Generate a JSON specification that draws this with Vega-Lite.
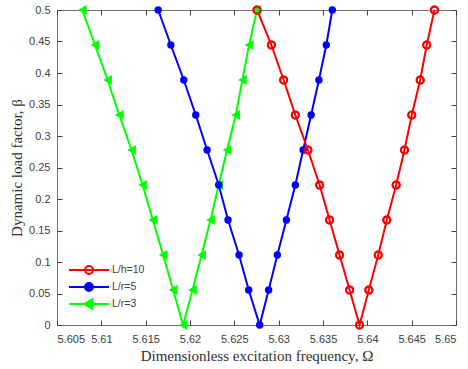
{
  "$schema": "https://vega.github.io/schema/vega-lite/v6.json",
  "width": 399,
  "height": 315,
  "autosize": {"type": "none"},
  "padding": {"left": 57, "top": 10, "right": 12, "bottom": 44},
  "background": "white",
  "config": {
    "view": {"stroke": "#707070", "strokeWidth": 1},
    "axis": {
      "grid": false,
      "domain": false,
      "tickColor": "#404040",
      "tickWidth": 1,
      "labelFont": "Liberation Sans",
      "labelFontSize": 11,
      "labelColor": "#404040",
      "titleFont": "Liberation Serif",
      "titleFontSize": 15,
      "titleFontWeight": "normal",
      "titleColor": "#303030"
    }
  },
  "data": {
    "values": [
      {"series": "L/r=3", "x": 5.60785, "beta": 0.5},
      {"series": "L/r=3", "x": 5.60928, "beta": 0.4444},
      {"series": "L/r=3", "x": 5.61071, "beta": 0.3889},
      {"series": "L/r=3", "x": 5.61202, "beta": 0.3333},
      {"series": "L/r=3", "x": 5.61341, "beta": 0.2778},
      {"series": "L/r=3", "x": 5.61465, "beta": 0.2222},
      {"series": "L/r=3", "x": 5.61581, "beta": 0.1667},
      {"series": "L/r=3", "x": 5.61697, "beta": 0.1111},
      {"series": "L/r=3", "x": 5.61810, "beta": 0.0556},
      {"series": "L/r=3", "x": 5.61922, "beta": 0},
      {"series": "L/r=3", "x": 5.62028, "beta": 0.0556},
      {"series": "L/r=3", "x": 5.62130, "beta": 0.1111},
      {"series": "L/r=3", "x": 5.62231, "beta": 0.1667},
      {"series": "L/r=3", "x": 5.62324, "beta": 0.2222},
      {"series": "L/r=3", "x": 5.62418, "beta": 0.2778},
      {"series": "L/r=3", "x": 5.62516, "beta": 0.3333},
      {"series": "L/r=3", "x": 5.62591, "beta": 0.3889},
      {"series": "L/r=3", "x": 5.62666, "beta": 0.4444},
      {"series": "L/r=3", "x": 5.62756, "beta": 0.5},
      {"series": "L/r=5", "x": 5.61641, "beta": 0.5},
      {"series": "L/r=5", "x": 5.61784, "beta": 0.4444},
      {"series": "L/r=5", "x": 5.61930, "beta": 0.3889},
      {"series": "L/r=5", "x": 5.62065, "beta": 0.3333},
      {"series": "L/r=5", "x": 5.62193, "beta": 0.2778},
      {"series": "L/r=5", "x": 5.62324, "beta": 0.2222},
      {"series": "L/r=5", "x": 5.62429, "beta": 0.1667},
      {"series": "L/r=5", "x": 5.62553, "beta": 0.1111},
      {"series": "L/r=5", "x": 5.62662, "beta": 0.0556},
      {"series": "L/r=5", "x": 5.62786, "beta": 0},
      {"series": "L/r=5", "x": 5.62887, "beta": 0.0556},
      {"series": "L/r=5", "x": 5.62985, "beta": 0.1111},
      {"series": "L/r=5", "x": 5.63087, "beta": 0.1667},
      {"series": "L/r=5", "x": 5.63188, "beta": 0.2222},
      {"series": "L/r=5", "x": 5.63276, "beta": 0.2778},
      {"series": "L/r=5", "x": 5.63366, "beta": 0.3333},
      {"series": "L/r=5", "x": 5.63454, "beta": 0.3889},
      {"series": "L/r=5", "x": 5.63537, "beta": 0.4444},
      {"series": "L/r=5", "x": 5.63605, "beta": 0.5},
      {"series": "L/h=10", "x": 5.62756, "beta": 0.5},
      {"series": "L/h=10", "x": 5.62918, "beta": 0.4444},
      {"series": "L/h=10", "x": 5.63056, "beta": 0.3889},
      {"series": "L/h=10", "x": 5.63188, "beta": 0.3333},
      {"series": "L/h=10", "x": 5.63330, "beta": 0.2778},
      {"series": "L/h=10", "x": 5.63462, "beta": 0.2222},
      {"series": "L/h=10", "x": 5.63574, "beta": 0.1667},
      {"series": "L/h=10", "x": 5.63687, "beta": 0.1111},
      {"series": "L/h=10", "x": 5.63800, "beta": 0.0556},
      {"series": "L/h=10", "x": 5.63912, "beta": 0},
      {"series": "L/h=10", "x": 5.64017, "beta": 0.0556},
      {"series": "L/h=10", "x": 5.64123, "beta": 0.1111},
      {"series": "L/h=10", "x": 5.64220, "beta": 0.1667},
      {"series": "L/h=10", "x": 5.64325, "beta": 0.2222},
      {"series": "L/h=10", "x": 5.64419, "beta": 0.2778},
      {"series": "L/h=10", "x": 5.64501, "beta": 0.3333},
      {"series": "L/h=10", "x": 5.64596, "beta": 0.3889},
      {"series": "L/h=10", "x": 5.64670, "beta": 0.4444},
      {"series": "L/h=10", "x": 5.64757, "beta": 0.5}
    ]
  },
  "layer": [
    {
      "encoding": {
        "x": {
          "field": "x", "type": "quantitative",
          "scale": {"domain": [5.605, 5.65], "nice": false, "zero": false},
          "axis": {
            "title": "Dimensionless excitation frequency, Ω",
            "values": [5.605, 5.61, 5.615, 5.62, 5.625, 5.63, 5.635, 5.64, 5.645, 5.65],
            "format": "~g",
            "ticks": false,
            "tickSize": 0,
            "labelPadding": 8,
            "titlePadding": 4
          }
        },
        "y": {
          "field": "beta", "type": "quantitative",
          "scale": {"domain": [0, 0.5], "nice": false},
          "axis": {
            "title": "Dynamic load factor, β",
            "values": [0, 0.05, 0.1, 0.15, 0.2, 0.25, 0.3, 0.35, 0.4, 0.45, 0.5],
            "format": "~g",
            "ticks": false,
            "tickSize": 0,
            "labelPadding": 7,
            "titlePadding": 4
          }
        },
        "color": {
          "field": "series", "type": "nominal",
          "scale": {"domain": ["L/h=10", "L/r=5", "L/r=3"], "range": ["#ff0000", "#0000ff", "#00ff00"]},
          "legend": {
            "title": null,
            "orient": "none",
            "legendX": 23,
            "legendY": 251,
            "padding": 0,
            "rowPadding": 0,
            "symbolSize": 256,
            "symbolStrokeWidth": 2,
            "labelOffset": 14,
            "labelFont": "Liberation Sans",
            "labelFontSize": 10.5,
            "labelColor": "#404040",
            "encode": {
              "symbols": {
                "update": {
                  "shape": {"signal": "datum.value === 'L/r=3' ? 'M-2.5,0H2.5M-0.6,0L0.45,-0.6L0.45,0.6Z' : 'M-2.5,0H2.5M-0.5,0A0.5,0.5,0,1,1,0.5,0A0.5,0.5,0,1,1,-0.5,0Z'"},
                  "fillOpacity": {"signal": "datum.value === 'L/h=10' ? 0 : 1"},
                  "stroke": {"signal": "datum.value === 'L/h=10' ? '#ff0000' : datum.value === 'L/r=5' ? '#0000ff' : '#00ff00'"},
                  "strokeWidth": {"value": 2},
                  "opacity": {"value": 1}
                }
              }
            }
          }
        }
      },
      "layer": [
        {
          "transform": [{"filter": "datum.series === 'L/h=10'"}],
          "mark": {"type": "point", "shape": "circle", "size": 50, "strokeWidth": 2, "opacity": 1, "filled": false}
        },
        {
          "mark": {"type": "line", "strokeWidth": 2},
          "encoding": {}
        },
        {
          "transform": [{"filter": "datum.series === 'L/r=3'"}],
          "mark": {"type": "point", "shape": "triangle-left", "size": 100, "strokeWidth": 1.5, "opacity": 1, "filled": true}
        },
        {
          "transform": [{"filter": "datum.series === 'L/r=5'"}],
          "mark": {"type": "point", "shape": "circle", "size": 55, "strokeWidth": 2, "opacity": 1, "filled": true}
        },
        {
          "transform": [{"filter": "datum.series === 'L/h=10'"}],
          "mark": {"type": "point", "shape": "circle", "size": 50, "strokeWidth": 2, "opacity": 1, "filled": false}
        }
      ]
    },
    {
      "mark": {"type": "point", "opacity": 0},
      "encoding": {
        "x": {
          "field": "x", "type": "quantitative",
          "scale": {"domain": [5.605, 5.65], "nice": false, "zero": false},
          "axis": {"orient": "top", "offset": -5, "labels": false, "title": null, "domain": false, "ticks": true, "tickSize": 5,
                   "values": [5.605, 5.61, 5.615, 5.62, 5.625, 5.63, 5.635, 5.64, 5.645, 5.65]}
        },
        "y": {
          "field": "beta", "type": "quantitative",
          "scale": {"domain": [0, 0.5], "nice": false},
          "axis": {"orient": "right", "offset": -5, "labels": false, "title": null, "domain": false, "ticks": true, "tickSize": 5,
                   "values": [0, 0.05, 0.1, 0.15, 0.2, 0.25, 0.3, 0.35, 0.4, 0.45, 0.5]}
        }
      }
    },
    {
      "mark": {"type": "point", "opacity": 0},
      "encoding": {
        "x": {
          "field": "x", "type": "quantitative",
          "scale": {"domain": [5.605, 5.65], "nice": false, "zero": false},
          "axis": {"orient": "bottom", "offset": -5, "labels": false, "title": null, "domain": false, "ticks": true, "tickSize": 5,
                   "values": [5.605, 5.61, 5.615, 5.62, 5.625, 5.63, 5.635, 5.64, 5.645, 5.65]}
        },
        "y": {
          "field": "beta", "type": "quantitative",
          "scale": {"domain": [0, 0.5], "nice": false},
          "axis": {"orient": "left", "offset": -5, "labels": false, "title": null, "domain": false, "ticks": true, "tickSize": 5,
                   "values": [0, 0.05, 0.1, 0.15, 0.2, 0.25, 0.3, 0.35, 0.4, 0.45, 0.5]}
        }
      }
    }
  ],
  "resolve": {
    "scale": {"x": "independent", "y": "independent"},
    "axis": {"x": "independent", "y": "independent"}
  }
}
